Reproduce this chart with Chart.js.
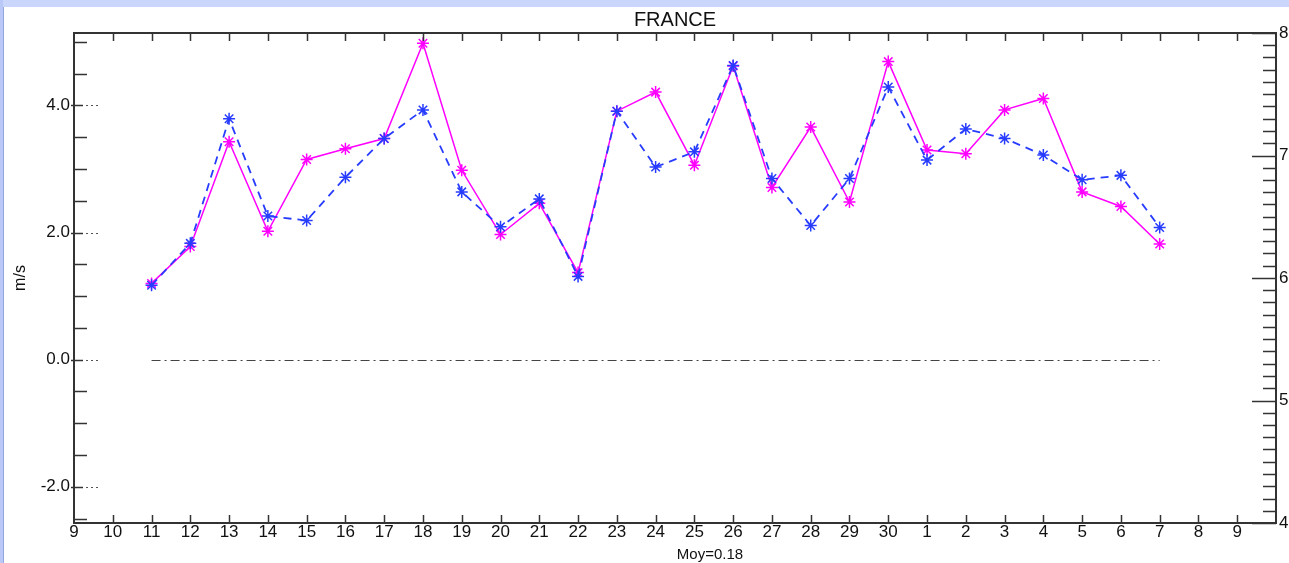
<!DOCTYPE html>
<html><head><meta charset="utf-8">
<script src="https://cdn.jsdelivr.net/npm/chart.js@4.4.1/dist/chart.umd.min.js"></script>
<style>html,body{margin:0;padding:0;background:#fff;overflow:hidden}
#wrap{position:absolute;left:0;top:0;width:1289px;height:563px}</style>
</head><body><div id="wrap"><canvas id="c" width="1289" height="563"></canvas></div>
<script>
const FONT = "'Liberation Sans', Arial, Helvetica, sans-serif";
const axisLabels = ['9','10','11','12','13','14','15','16','17','18','19','20','21','22','23','24','25','26','27','28','29','30','1','2','3','4','5','6','7','8','9',''];
const dataDays = ['11','12','13','14','15','16','17','18','19','20','21','22','23','24','25','26','27','28','29','30','1','2','3','4','5','6','7'];
const magentaValues = [1.20,1.78,3.43,2.02,3.15,3.32,3.48,4.98,2.98,1.97,2.46,1.37,3.91,4.21,3.06,4.62,2.71,3.66,2.48,4.69,3.30,3.24,3.93,4.11,2.64,2.41,1.82];
const blueValues    = [1.17,1.83,3.79,2.26,2.19,2.87,3.48,3.93,2.64,2.09,2.53,1.31,3.91,3.03,3.27,4.63,2.85,2.11,2.85,4.29,3.14,3.63,3.48,3.22,2.83,2.90,2.08];
const leftMajorTicks = [-2, 0, 2, 4];
const leftMinorStep = 0.5;
const rightMinorStep = 0.1;
const yRange = [-2.57, 5.14];
const y2Range = [4, 8];
const zeroRef = 0;
const meanLabel = 'Moy=0.18';
const titleText = 'FRANCE';
const yTitle = 'm/s';

const startIndex = axisLabels.indexOf(dataDays[0]);
const pad = vals => axisLabels.map((_, i) => (i >= startIndex && i < startIndex + vals.length) ? vals[i - startIndex] : null);

const BLUE = 'rgb(40,60,255)';
const MAG = 'rgb(255,0,255)';
const INK = '#111';

const deco = {
  id: 'deco',
  beforeDraw(chart) {
    const ctx = chart.ctx;
    ctx.save();
    ctx.fillStyle = '#fff';
    ctx.fillRect(0, 0, chart.width, chart.height);
    ctx.fillStyle = 'rgb(202,214,251)';
    ctx.fillRect(0, 0, chart.width, 7);
    ctx.fillStyle = 'rgb(186,200,248)';
    ctx.fillRect(0, 0, 3, chart.height);
    ctx.fillStyle = 'rgb(150,166,225)';
    ctx.fillRect(3, 7, 1, chart.height - 7);
    ctx.restore();
  },
  beforeDatasetsDraw(chart) {
    const {ctx, scales} = chart;
    const x = scales.x, y = scales.y;
    const py = Math.round(y.getPixelForValue(zeroRef)) + 0.5;
    ctx.save();
    ctx.strokeStyle = '#444';
    ctx.lineWidth = 1.2;
    ctx.setLineDash([9, 4, 2, 4]);
    ctx.beginPath();
    ctx.moveTo(x.getPixelForValue(startIndex), py);
    ctx.lineTo(x.getPixelForValue(startIndex + dataDays.length - 1), py);
    ctx.stroke();
    ctx.restore();
  },
  afterDraw(chart) {
    const {ctx, chartArea: a, scales} = chart;
    const x = scales.x, y = scales.y, y2 = scales.y2;
    const line = (x1, y1, x2, y2_) => { ctx.beginPath(); ctx.moveTo(x1, y1); ctx.lineTo(x2, y2_); ctx.stroke(); };
    ctx.save();
    ctx.strokeStyle = '#333';
    ctx.lineWidth = 1.5;
    for (let i = 1; i < axisLabels.length - 1; i++) {
      const px = Math.round(x.getPixelForValue(i)) + 0.5;
      line(px, a.top, px, a.top + 8);
      line(px, a.bottom, px, a.bottom - 8);
    }
    for (let k = Math.ceil(y.min / leftMinorStep); k * leftMinorStep <= y.max; k++) {
      const v = k * leftMinorStep;
      if (leftMajorTicks.some(m => Math.abs(m - v) < 1e-6)) continue;
      const py = Math.round(y.getPixelForValue(v)) + 0.5;
      line(a.left, py, a.left + 13, py);
    }
    leftMajorTicks.forEach(v => {
      const py = Math.round(y.getPixelForValue(v)) + 0.5;
      ctx.setLineDash([]);
      line(a.left - 3, py, a.left + 9, py);
      ctx.save();
      ctx.strokeStyle = '#555';
      ctx.lineWidth = 1.2;
      ctx.setLineDash([2, 3]);
      line(a.left + 12, py, a.left + 25, py);
      ctx.restore();
    });
    for (let k = Math.round(y2.min / rightMinorStep); k <= Math.round(y2.max / rightMinorStep); k++) {
      const v = k * rightMinorStep;
      const py = Math.round(y2.getPixelForValue(v)) + 0.5;
      const len = (k % 10 === 0) ? 24 : 13;
      line(a.right - len, py, a.right, py);
    }
    ctx.lineWidth = 2;
    ctx.strokeStyle = '#333';
    ctx.strokeRect(a.left, a.top, a.right - a.left, a.bottom - a.top);
    ctx.fillStyle = INK;
    ctx.font = `15px ${FONT}`;
    ctx.textAlign = 'center';
    ctx.textBaseline = 'alphabetic';
    ctx.fillText(meanLabel, 710, 559);
    ctx.restore();
  }
};

new Chart(document.getElementById('c'), {
  type: 'line',
  data: {
    labels: axisLabels,
    datasets: [
      { label: 'blue', data: pad(blueValues), borderColor: BLUE, borderWidth: 1.8, borderDash: [8, 6],
        pointStyle: 'star', pointRadius: 6, pointBorderColor: BLUE, pointBorderWidth: 1.5, pointBackgroundColor: BLUE,
        fill: false, tension: 0, yAxisID: 'y' },
      { label: 'magenta', data: pad(magentaValues), borderColor: MAG, borderWidth: 1.5,
        pointStyle: 'star', pointRadius: 6, pointBorderColor: MAG, pointBorderWidth: 1.5, pointBackgroundColor: MAG,
        fill: false, tension: 0, yAxisID: 'y' }
    ]
  },
  options: {
    responsive: false, animation: false, devicePixelRatio: 1,
    layout: { padding: 0 },
    plugins: {
      legend: { display: false },
      tooltip: { enabled: false },
      title: { display: true, text: titleText, color: INK, fullSize: false,
        font: { family: FONT, size: 20, weight: 'normal', lineHeight: 1.2 }, padding: { top: 8, bottom: 1 } }
    },
    scales: {
      x: { type: 'category', offset: false, afterFit(s) { s.height = 40; },
        grid: { display: false, drawTicks: false }, border: { display: false },
        ticks: { autoSkip: false, maxRotation: 0, minRotation: 0, padding: 1, color: INK,
          font: { family: FONT, size: 17, lineHeight: 1 } } },
      y: { position: 'left', min: yRange[0], max: yRange[1], afterFit(s) { s.width = 74; },
        grid: { display: false, drawTicks: false }, border: { display: false },
        ticks: { stepSize: 2, includeBounds: false, padding: 4, color: INK,
          font: { family: FONT, size: 17 }, callback: v => Number(v).toFixed(1) },
        title: { display: true, text: yTitle, color: INK, font: { family: FONT, size: 16 }, padding: { top: 11, bottom: 0 } } },
      y2: { position: 'right', min: y2Range[0], max: y2Range[1], afterFit(s) { s.width = 13; },
        grid: { display: false, drawTicks: false }, border: { display: false },
        ticks: { stepSize: 1, includeBounds: false, padding: 3, color: INK, font: { family: FONT, size: 17 },
          callback: v => String(v) } }
    }
  },
  plugins: [deco]
});
</script></body></html>
